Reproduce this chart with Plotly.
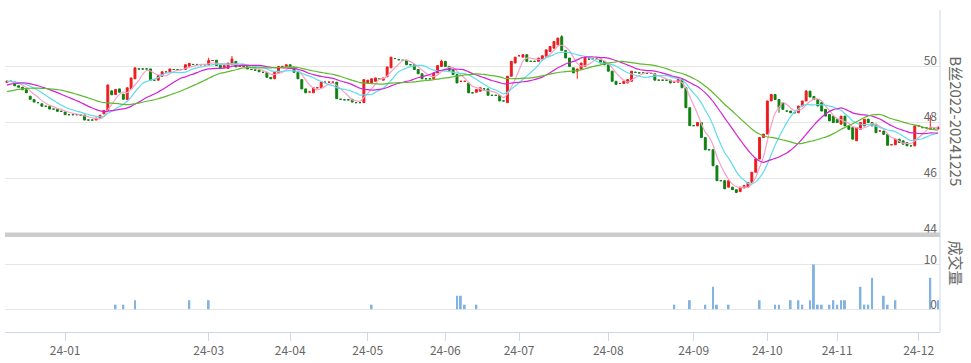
import pandas as pd
import plotly.graph_objects as go

# ---------------- data ----------------
holidays = ['2024-01-01', '2024-02-09', '2024-02-12', '2024-02-13', '2024-02-14', '2024-02-15',
            '2024-02-16', '2024-04-04', '2024-04-05', '2024-05-01', '2024-05-02', '2024-05-03',
            '2024-06-10', '2024-09-16', '2024-09-17', '2024-10-01', '2024-10-02', '2024-10-03',
            '2024-10-04', '2024-10-07']
dates = [d.strftime('%Y-%m-%d') for d in pd.bdate_range('2023-12-11', '2024-12-09')
         if d.strftime('%Y-%m-%d') not in holidays]

opens = [
    49.42, 49.46, 49.44, 49.30, 49.25, 49.16, 48.93, 48.81, 48.70, 48.66,
    48.57, 48.57, 48.47, 48.46, 48.39, 48.37, 48.27, 48.27, 48.27, 48.26,
    48.26, 48.08, 48.08, 48.08, 48.15, 48.30, 48.42, 49.12, 48.99, 49.19,
    49.00, 48.81, 49.19, 49.55, 49.90, 49.90, 49.90, 49.90, 49.50, 49.50,
    49.64, 49.80, 49.78, 49.88, 49.88, 49.88, 49.88, 50.00, 50.06, 50.06,
    50.05, 50.05, 50.05, 50.20, 50.21, 50.03, 49.96, 49.92, 50.05, 50.17,
    49.99, 49.99, 49.99, 49.88, 49.86, 49.86, 49.78, 49.78, 49.60, 49.55,
    49.78, 49.99, 49.99, 50.05, 49.97, 49.78, 49.52, 49.19, 49.08, 49.05,
    49.23, 49.23, 49.43, 49.43, 49.43, 49.43, 48.82, 48.80, 48.80, 48.82,
    48.70, 48.70, 48.70, 49.40, 49.38, 49.46, 49.55, 49.50, 49.62, 49.94,
    50.27, 50.23, 50.21, 50.21, 50.05, 50.05, 49.88, 49.73, 49.55, 49.55,
    49.55, 49.76, 49.99, 50.17, 49.99, 49.87, 49.70, 49.46, 49.46, 49.40,
    49.05, 49.07, 49.11, 49.19, 49.19, 48.96, 48.96, 48.96, 48.76, 48.70,
    49.64, 50.11, 50.37, 50.32, 50.41, 50.17, 50.17, 50.17, 50.23, 50.35,
    50.52, 50.64, 50.76, 51.05, 50.56, 50.29, 49.94, 49.82, 49.90, 49.99,
    50.25, 50.25, 50.25, 50.25, 50.17, 50.05, 49.82, 49.46, 49.38, 49.38,
    49.40, 49.46, 49.78, 49.76, 49.76, 49.75, 49.74, 49.73, 49.50, 49.50,
    49.50, 49.50, 49.43, 49.43, 49.52, 49.23, 48.52, 47.88, 47.87, 47.99,
    47.46, 47.02, 47.02, 46.45, 45.92, 45.92, 45.69, 45.69, 45.60, 45.53,
    45.66, 45.69, 45.86, 46.22, 46.69, 47.46, 47.58, 48.76, 48.99, 48.81,
    48.70, 48.40, 48.40, 48.34, 48.34, 48.58, 48.76, 49.11, 48.92, 48.81,
    48.70, 48.46, 48.28, 48.22, 48.11, 47.93, 48.22, 47.87, 47.81, 47.34,
    47.75, 47.87, 48.11, 47.99, 47.93, 47.69, 47.69, 47.57, 47.20, 47.20,
    47.40, 47.34, 47.28, 47.16, 47.16, 47.87, 47.81, 47.80, 47.75, 47.76,
    47.76]

closes = [
    49.47, 49.46, 49.30, 49.25, 49.16, 49.05, 48.82, 48.72, 48.70, 48.57,
    48.57, 48.47, 48.47, 48.39, 48.39, 48.27, 48.27, 48.27, 48.27, 48.26,
    48.08, 48.08, 48.08, 48.15, 48.25, 48.42, 49.33, 48.98, 49.17, 49.07,
    48.82, 49.23, 49.58, 49.94, 49.90, 49.90, 49.90, 49.50, 49.50, 49.66,
    49.80, 49.80, 49.90, 49.88, 49.88, 49.88, 50.05, 50.10, 50.06, 50.06,
    50.05, 50.05, 50.20, 50.20, 50.02, 49.95, 50.02, 50.11, 50.25, 49.97,
    49.99, 49.99, 49.90, 49.88, 49.86, 49.80, 49.78, 49.60, 49.55, 49.78,
    49.99, 49.99, 50.05, 49.97, 49.78, 49.55, 49.19, 49.05, 49.08, 49.23,
    49.23, 49.43, 49.43, 49.43, 49.43, 48.84, 48.82, 48.80, 48.80, 48.72,
    48.70, 48.70, 49.52, 49.50, 49.55, 49.58, 49.55, 49.58, 49.97, 50.32,
    50.27, 50.23, 50.21, 50.05, 50.05, 49.88, 49.73, 49.55, 49.55, 49.55,
    49.76, 50.02, 50.17, 49.99, 49.85, 49.70, 49.40, 49.46, 49.46, 49.05,
    49.05, 49.17, 49.23, 49.19, 48.96, 48.96, 48.96, 48.76, 48.76, 49.64,
    50.17, 50.32, 50.37, 50.41, 50.17, 50.17, 50.17, 50.29, 50.37, 50.58,
    50.70, 50.88, 51.00, 50.56, 50.29, 49.99, 49.76, 49.90, 50.11, 50.32,
    50.25, 50.25, 50.25, 50.11, 50.05, 49.82, 49.46, 49.35, 49.38, 49.46,
    49.52, 49.82, 49.78, 49.76, 49.76, 49.75, 49.74, 49.50, 49.50, 49.50,
    49.50, 49.40, 49.43, 49.52, 49.23, 48.52, 47.88, 47.88, 47.99, 47.46,
    47.02, 47.02, 46.45, 45.92, 45.92, 45.63, 45.92, 45.60, 45.50, 45.69,
    45.75, 45.86, 46.22, 46.69, 47.46, 47.58, 48.76, 48.99, 48.81, 48.52,
    48.46, 48.40, 48.34, 48.34, 48.58, 48.76, 49.11, 48.90, 48.81, 48.58,
    48.40, 48.22, 48.05, 47.99, 47.99, 48.22, 47.87, 47.75, 47.40, 47.81,
    47.99, 48.11, 47.99, 47.87, 47.63, 47.69, 47.57, 47.18, 47.20, 47.40,
    47.28, 47.22, 47.16, 47.16, 47.87, 47.87, 47.81, 47.80, 47.81, 47.76,
    47.83]

# visible shadows (index -> price); elsewhere the shadow is the body
upper_shadow = {52: 50.30, 58: 50.36, 112: 50.23, 143: 51.10, 206: 49.15, 238: 48.25}
lower_shadow = {147: 49.55, 199: 48.34}

# closes before the visible window, estimated from where the MA lines start
warmup_closes = [48.50, 48.52, 48.55, 48.58, 48.60, 48.62, 48.65, 48.70, 48.72, 48.75,
                 48.80, 48.85, 48.90, 48.95, 49.30, 49.35, 49.40, 49.42, 49.45, 49.45,
                 49.48, 49.50, 49.50, 49.48, 49.45, 49.45, 49.44, 49.42, 49.45]

volumes = [
    0, 0, 0, 0, 0, 0, 0, 0, 0, 0, 0, 0, 0, 0, 0, 0, 0, 0, 0, 0,
    0, 0, 0, 0, 0, 0, 0, 0, 1, 0, 1, 0, 0, 2, 0, 0, 0, 0, 0, 0,
    0, 0, 0, 0, 0, 0, 0, 2, 0, 0, 0, 0, 2, 0, 0, 0, 0, 0, 0, 0,
    0, 0, 0, 0, 0, 0, 0, 0, 0, 0, 0, 0, 0, 0, 0, 0, 0, 0, 0, 0,
    0, 0, 0, 0, 0, 0, 0, 0, 0, 0, 0, 0, 0, 0, 1, 0, 0, 0, 0, 0,
    0, 0, 0, 0, 0, 0, 0, 0, 0, 0, 0, 0, 0, 0, 0, 0, 3, 3, 1, 0,
    0, 1, 0, 0, 0, 0, 0, 0, 0, 0, 0, 0, 0, 0, 0, 0, 0, 0, 0, 0,
    0, 0, 0, 0, 0, 0, 0, 0, 0, 0, 0, 0, 0, 0, 0, 0, 0, 0, 0, 0,
    0, 0, 0, 0, 0, 0, 0, 0, 0, 0, 0, 0, 1, 0, 0, 0, 2, 0, 0, 0,
    1, 0, 5, 1, 0, 0, 1, 0, 0, 0, 0, 0, 0, 0, 2, 0, 0, 0, 1, 1,
    0, 0, 2, 0, 2, 1, 0, 2, 10, 1, 1, 0, 1, 2, 1, 2, 2, 0, 0, 0,
    5, 1, 1, 7, 0, 0, 3, 1, 0, 2, 0, 0, 0, 0, 0, 0, 0, 0, 7, 0,
    2]

ma_periods = [5, 10, 20, 30]
ma_colors = ['#f7a0c8', '#5fdcef', '#d422d4', '#5fba2e']

tick_dates = ['2024-01-02', '2024-03-01', '2024-04-01', '2024-05-06', '2024-06-03', '2024-07-01',
              '2024-08-01', '2024-09-02', '2024-10-08', '2024-11-01', '2024-12-02']
tick_labels = ['24-01', '24-03', '24-04', '24-05', '24-06', '24-07',
               '24-08', '24-09', '24-10', '24-11', '24-12']

price_title = 'B丝2022-20241225'
volume_title = '成交量'

# ---------------- derived ----------------
highs = [upper_shadow.get(i, max(o, c)) for i, (o, c) in enumerate(zip(opens, closes))]
lows = [lower_shadow.get(i, min(o, c)) for i, (o, c) in enumerate(zip(opens, closes))]
all_closes = pd.Series(warmup_closes + closes)
n_warm = len(warmup_closes)

UP = '#ec1c1c'
DN = '#0e800e'
GRID = '#e6e6e6'
AXIS = '#cdd5ea'
TXT = '#666666'
FONT = 'Noto Sans CJK SC, Noto Sans, sans-serif'

fig = go.Figure()
fig.add_trace(go.Candlestick(
    x=dates, open=opens, high=highs, low=lows, close=closes,
    increasing=dict(line=dict(color=UP, width=1), fillcolor=UP),
    decreasing=dict(line=dict(color=DN, width=1), fillcolor=DN),
    whiskerwidth=0, xaxis='x', yaxis='y', showlegend=False, hoverinfo='skip'))

for n, col in zip(ma_periods, ma_colors):
    ma = all_closes.rolling(n, min_periods=1).mean().iloc[n_warm:].tolist()
    fig.add_trace(go.Scatter(x=dates, y=ma, mode='lines', xaxis='x', yaxis='y',
                             line=dict(color=col, width=1.2, shape='spline', smoothing=0.6),
                             showlegend=False, hoverinfo='skip'))

fig.add_trace(go.Bar(x=dates, y=volumes, xaxis='x', yaxis='y2', width=0.5,
                     marker=dict(color='#82b4e3', line=dict(width=0)),
                     showlegend=False, hoverinfo='skip'))

top_px, bot_px = 10, 334
H = bot_px - top_px
def py(px):
    return (bot_px - px) / H

fig.update_layout(
    width=971, height=363,
    margin=dict(l=5, r=31, t=top_px, b=363 - bot_px),
    paper_bgcolor='white', plot_bgcolor='white',
    font=dict(family=FONT, color=TXT, size=12),
    showlegend=False, boxgap=0.3,
    xaxis=dict(type='category', categoryorder='array', categoryarray=dates,
               range=[-0.5, len(dates) - 0.5], anchor='y2',
               showgrid=False, zeroline=False, showline=True, linecolor=AXIS, linewidth=1,
               ticks='outside', ticklen=8, tickcolor=AXIS,
               tickvals=tick_dates, ticktext=tick_labels,
               tickfont=dict(size=12, color=TXT),
               rangeslider=dict(visible=False)),
    yaxis=dict(domain=[py(240.2), 1], range=[43.85, 52], side='right', anchor='x',
               tickvals=[44, 46, 48, 50, 52], ticktext=['44', '46', '48', '50', ''],
               ticklabelposition='inside top', ticks='', ticklabelshift=3,
               showgrid=True, gridcolor=GRID, gridwidth=1, zeroline=False,
               showline=False,
               tickfont=dict(size=12, color=TXT)),
    yaxis2=dict(domain=[0, py(238)], range=[-5.11, 16.22], side='right', anchor='x',
                tickvals=[0, 10], ticktext=['0', '10'],
                ticklabelposition='inside top', ticks='', ticklabelshift=4,
                showgrid=True, gridcolor=GRID, gridwidth=1, zeroline=False,
                showline=False,
                tickfont=dict(size=12, color=TXT)),
    shapes=[dict(type='rect', xref='paper', yref='paper', x0=0, x1=1,
                 y0=py(238.3), y1=py(234), fillcolor='#cccccc', line=dict(width=0),
                 layer='above'),
            dict(type='line', xref='paper', yref='paper', x0=1, x1=1, y0=0, y1=1,
                 line=dict(color=AXIS, width=1), layer='above')],
    annotations=[
        dict(text=price_title, xref='paper', yref='paper', x=(957 - 5) / 935, y=py(122),
             xanchor='center', yanchor='middle',
             textangle=90, showarrow=False, font=dict(size=15, color=TXT, family=FONT)),
        dict(text=volume_title, xref='paper', yref='paper', x=(957 - 5) / 935, y=py(265),
             xanchor='center', yanchor='middle',
             textangle=90, showarrow=False, font=dict(size=15, color=TXT, family=FONT)),
    ],
)

fig.write_html('out.html', config={'displayModeBar': False},
               post_script="document.body.style.margin='0';")
